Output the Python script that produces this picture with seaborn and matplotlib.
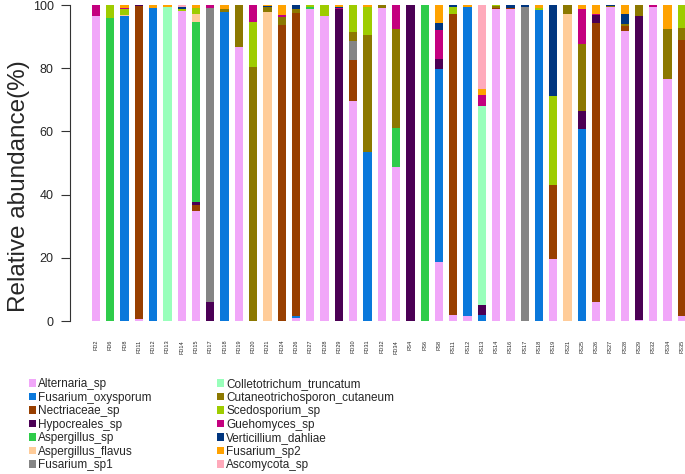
import numpy as np
import pandas as pd
import matplotlib
matplotlib.use("Agg")
import matplotlib.pyplot as plt
from matplotlib.patches import Patch
import seaborn as sns

samples = ["FD2", "FD6", "FD8", "FD11", "FD12", "FD13", "FD14", "FD15", "FD17", "FD18",
           "FD19", "FD20", "FD21", "FD24", "FD26", "FD27", "FD28", "FD29", "FD30", "FD31",
           "FD32", "FD34", "FS4", "FS6", "FS8", "FS11", "FS12", "FS13", "FS14", "FS16",
           "FS17", "FS18", "FS19", "FS21", "FS25", "FS26", "FS27", "FS28", "FS29", "FS32",
           "FS34", "FS35"]

# relative abundance (%) per taxon, only non-zero samples listed
alternaria_sp = {"FD2": 96.6, "FD11": 0.5, "FD14": 98.1, "FD15": 34.9, "FD19": 86.8, "FD26": 0.8,
                 "FD27": 98.8, "FD28": 96.5, "FD30": 69.6, "FD32": 98.9, "FD34": 48.8, "FS8": 18.6,
                 "FS11": 1.9, "FS12": 1.6, "FS14": 98.6, "FS16": 98.7, "FS19": 19.6, "FS26": 5.9,
                 "FS27": 99.5, "FS28": 91.8, "FS29": 0.3, "FS32": 99.5, "FS34": 76.5, "FS35": 1.6}
fusarium_oxysporum = {"FD8": 96.5, "FD12": 99.0, "FD18": 97.9, "FD26": 0.8, "FD31": 53.6, "FS8": 61.2,
                      "FS12": 97.7, "FS13": 1.9, "FS18": 98.4, "FS25": 60.8}
nectriaceae_sp = {"FD11": 99.3, "FD15": 1.9, "FD24": 93.7, "FD26": 95.9, "FD30": 13.0, "FS11": 95.3,
                  "FS14": 0.3, "FS16": 0.3, "FS19": 23.4, "FS26": 88.5, "FS28": 1.4, "FS35": 87.3}
hypocreales_sp = {"FD11": 0.2, "FD15": 0.8, "FD17": 6.0, "FD29": 98.6, "FS4": 100.0, "FS8": 3.2,
                  "FS13": 3.2, "FS25": 5.5, "FS26": 2.3, "FS29": 96.3}
aspergillus_sp = {"FD6": 96.0, "FD15": 57.0, "FD27": 0.7, "FD34": 12.4, "FS6": 100.0}
aspergillus_flavus = {"FD8": 0.3, "FD15": 2.4, "FD21": 97.9, "FS21": 97.2}
fusarium_sp1 = {"FD17": 93.2, "FD30": 6.0, "FS17": 99.5}
colletotrichum_truncatum = {"FD13": 99.5, "FS13": 62.8}
cutaneotrichosporon_cutaneum = {"FD18": 0.7, "FD19": 13.2, "FD20": 80.5, "FD21": 1.4, "FD24": 2.4,
                                "FD26": 1.2, "FD30": 2.7, "FD31": 36.9, "FD32": 1.1, "FD34": 31.1,
                                "FS14": 0.8, "FS21": 2.8, "FS25": 21.5, "FS27": 0.3, "FS28": 0.8,
                                "FS29": 3.4, "FS34": 15.9, "FS35": 3.7}
scedosporium_sp = {"FD6": 4.0, "FD8": 1.8, "FD14": 0.6, "FD15": 1.9, "FD20": 14.2, "FD27": 0.5,
                   "FD28": 3.5, "FD30": 8.7, "FD31": 9.0, "FS11": 2.1, "FS14": 0.3, "FS18": 0.5,
                   "FS19": 28.2, "FS35": 7.4}
guehomyces_sp = {"FD2": 3.4, "FD8": 0.6, "FD17": 0.8, "FD20": 5.3, "FD24": 0.7, "FD29": 0.4,
                 "FD34": 7.7, "FS8": 9.2, "FS13": 3.7, "FS25": 10.9, "FS26": 0.5, "FS32": 0.5}
verticillium_dahliae = {"FD14": 0.7, "FD21": 0.5, "FD26": 1.3, "FD29": 0.5, "FS8": 2.0, "FS11": 0.7,
                        "FS16": 1.0, "FS17": 0.5, "FS19": 28.8, "FS27": 0.2, "FS28": 3.2}
fusarium_sp2 = {"FD8": 0.8, "FD12": 1.0, "FD13": 0.5, "FD15": 1.1, "FD18": 1.4, "FD21": 0.2,
                "FD24": 3.2, "FD29": 0.5, "FD31": 0.5, "FS8": 5.8, "FS12": 0.7, "FS13": 1.9,
                "FS18": 1.1, "FS25": 1.3, "FS26": 2.8, "FS28": 2.8, "FS34": 7.6}
ascomycota_sp = {"FD14": 0.6, "FS13": 26.5}

taxa = ["Alternaria_sp", "Fusarium_oxysporum", "Nectriaceae_sp", "Hypocreales_sp", "Aspergillus_sp",
        "Aspergillus_flavus", "Fusarium_sp1", "Colletotrichum_truncatum", "Cutaneotrichosporon_cutaneum",
        "Scedosporium_sp", "Guehomyces_sp", "Verticillium_dahliae", "Fusarium_sp2", "Ascomycota_sp"]
colors = ["#F1A7F9", "#0A78DB", "#983F00", "#4B0055", "#2ECC4A", "#FFCC99", "#858585",
          "#99FFBB", "#8C7800", "#9ECC00", "#C4007F", "#00357F", "#FFA200", "#FFAABB"]

table = pd.DataFrame(
    [alternaria_sp, fusarium_oxysporum, nectriaceae_sp, hypocreales_sp, aspergillus_sp,
     aspergillus_flavus, fusarium_sp1, colletotrichum_truncatum, cutaneotrichosporon_cutaneum,
     scedosporium_sp, guehomyces_sp, verticillium_dahliae, fusarium_sp2, ascomycota_sp],
    index=taxa,
).reindex(columns=samples).fillna(0.0).T
cum = table.cumsum(axis=1)

sns.set_style("white")
plt.rcParams["font.family"] = ["Liberation Sans", "DejaVu Sans"]

fig = plt.figure(figsize=(6.85, 4.74), dpi=100)
ax = fig.add_axes([69.5 / 685, 153 / 474, 615.5 / 685, 316 / 474])

# stacked bars: draw cumulative totals from top layer down
for taxon, color in reversed(list(zip(taxa, colors))):
    d = pd.DataFrame({"sample": samples, "value": cum[taxon].values})
    sns.barplot(data=d, x="sample", y="value", order=samples, color=color,
                width=0.58, saturation=1, linewidth=0, ax=ax)

ax.set_xlim(-1.855, 41.22)
ax.set_ylim(0, 100)
ax.set_yticks(np.arange(0, 101, 20))
ax.set_xlabel("")
ax.set_ylabel("")
for s in ["top", "right", "bottom"]:
    ax.spines[s].set_visible(False)
ax.spines["left"].set_color("#333333")
ax.spines["left"].set_linewidth(0.8)
ax.tick_params(axis="y", length=6.3, width=0.8, color="#333333", labelsize=9, pad=5, left=True)
ax.tick_params(axis="x", length=0, labelsize=4, pad=13.5, labelrotation=90)
fig.text(19 / 685, 1 - 186.5 / 474, "Relative abundance(%)", rotation=90,
         ha="center", va="center", fontsize=17.5)

handles = [Patch(facecolor=c, edgecolor="none", label=t) for t, c in zip(taxa, colors)]
fig.legend(handles=handles, ncol=2, loc="upper left", bbox_to_anchor=(29 / 685, 1 - 378 / 474),
           frameon=False, fontsize=8.5, handlelength=0.62, handleheight=0.62, handletextpad=0.17,
           columnspacing=5.5, labelspacing=0.13, borderpad=0, borderaxespad=0)

fig.savefig("out.png", dpi=100)
